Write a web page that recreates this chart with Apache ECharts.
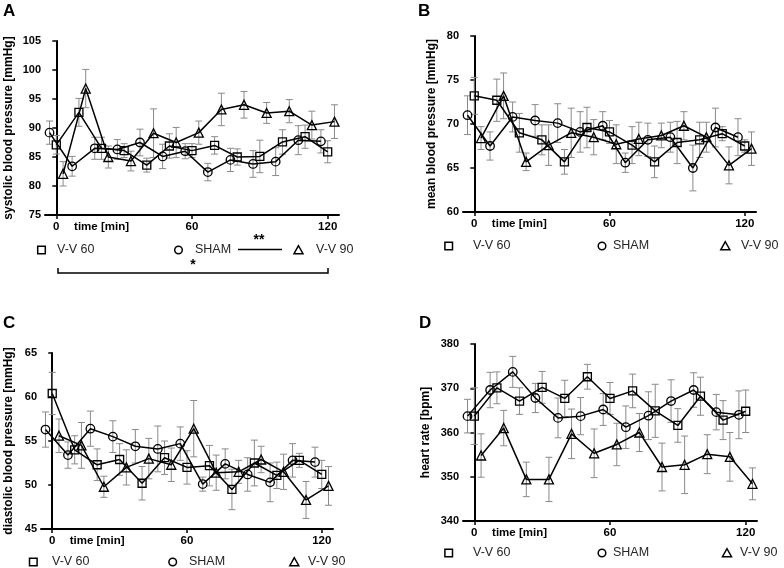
<!DOCTYPE html>
<html><head><meta charset="utf-8">
<script src="https://cdn.jsdelivr.net/npm/echarts@6/dist/echarts.min.js"></script>
<style>html,body{margin:0;padding:0;background:#fff}#c{width:784px;height:568px}</style>
</head><body><div id="c"></div>
<script>
// time points (min)
const timeSham = [-3, 7, 17, 27, 37, 47, 57, 67, 77, 87, 97, 107, 117];
const time60 = [0, 10, 20, 30, 40, 50, 60, 70, 80, 90, 100, 110, 120];
const time90 = [3, 13, 23, 33, 43, 53, 63, 73, 83, 93, 103, 113, 123];
const xTickValues = [0, 60, 120];
const xLabelValues = [0, 20, 60, 120];
const seriesNames = ['V-V 60', 'SHAM', 'V-V 90'];

// A: systolic blood pressure
const sys60 = [87.1, 92.7, 86.5, 86.1, 83.6, 86.9, 86.1, 87.0, 85.0, 85.1, 87.6, 88.5, 85.9];
const sys60Err = [1.6, 2.4, 1.9, 1.2, 1.2, 2.1, 1.2, 1.5, 1.4, 2.8, 2.1, 2.0, 1.9];
const sysSham = [89.2, 83.4, 86.5, 86.3, 87.5, 85.1, 86.0, 82.4, 84.5, 83.8, 84.2, 87.9, 87.7];
const sysShamErr = [2.0, 1.7, 1.9, 1.7, 2.3, 2.1, 1.3, 1.5, 2.0, 2.3, 2.4, 2.5, 2.0];
const sys90 = [82.1, 96.8, 85.0, 84.3, 89.1, 87.5, 89.2, 93.2, 94.0, 92.6, 92.9, 90.5, 91.1];
const sys90Err = [2.1, 3.3, 1.9, 1.7, 4.2, 2.6, 2.0, 2.8, 2.3, 1.8, 2.0, 2.4, 2.9];

// B: mean blood pressure
const mean60 = [73.2, 72.7, 69.0, 68.2, 65.7, 69.6, 69.1, 67.6, 65.7, 67.9, 68.2, 68.9, 67.5];
const mean60Err = [2.1, 2.4, 2.2, 1.7, 1.4, 2.3, 1.3, 2.1, 1.8, 2.4, 2.0, 0.8, 0.7];
const meanSham = [71.0, 67.5, 70.8, 70.4, 70.1, 69.1, 69.8, 65.6, 68.2, 68.5, 65.0, 69.6, 68.5];
const meanShamErr = [2.2, 1.6, 1.7, 1.8, 2.2, 2.3, 1.6, 1.1, 1.9, 1.7, 2.6, 2.2, 2.1];
const mean90 = [68.4, 73.2, 65.7, 67.6, 69.0, 68.5, 67.7, 68.3, 68.7, 69.8, 68.5, 65.3, 67.2];
const mean90Err = [1.3, 2.6, 1.0, 2.3, 2.8, 2.0, 2.2, 1.9, 1.4, 1.6, 1.7, 2.1, 1.9];

// C: diastolic blood pressure
const dia60 = [60.4, 54.0, 52.3, 52.9, 50.2, 53.1, 52.0, 52.2, 49.5, 52.5, 51.1, 52.8, 51.2];
const dia60Err = [2.4, 1.6, 1.8, 1.8, 1.9, 1.9, 1.9, 2.3, 2.3, 2.6, 1.5, 0.8, 1.6];
const diaSham = [56.3, 53.4, 56.4, 55.5, 54.4, 54.1, 54.7, 50.1, 52.4, 51.2, 50.3, 52.8, 52.6];
const diaShamErr = [2.0, 1.5, 2.0, 1.8, 1.9, 2.6, 1.9, 0.8, 1.7, 1.9, 2.2, 1.9, 1.7];
const dia90 = [55.6, 54.5, 49.8, 52.0, 53.0, 52.3, 56.4, 51.4, 51.5, 52.9, 51.5, 48.3, 49.9];
const dia90Err = [1.9, 2.6, 1.2, 2.0, 2.3, 1.9, 3.2, 2.0, 1.3, 1.5, 2.0, 2.1, 2.2];

// D: heart rate
const hr60 = [363.7, 370.1, 367.1, 370.2, 367.7, 372.6, 367.7, 369.4, 364.9, 361.6, 368.2, 362.8, 364.8];
const hr60Err = [6.4, 3.6, 3.0, 3.6, 4.1, 2.8, 3.6, 3.8, 6.0, 3.8, 4.3, 4.4, 4.8];
const hrSham = [363.7, 369.6, 373.7, 367.8, 363.3, 363.7, 365.2, 361.2, 363.8, 367.1, 369.6, 364.6, 364.0];
const hrShamErr = [3.8, 4.0, 3.5, 3.3, 4.5, 4.2, 3.6, 4.8, 5.4, 4.8, 3.9, 4.0, 5.4];
const hr90 = [354.8, 361.0, 349.4, 349.4, 359.7, 355.3, 357.3, 360.0, 352.2, 352.7, 355.1, 354.5, 348.4];
const hr90Err = [4.9, 4.0, 3.9, 5.0, 5.6, 5.5, 4.8, 4.3, 5.4, 6.5, 4.4, 5.5, 3.6];

const FONT = '"Liberation Sans", Arial, sans-serif';

const panels = [
  {letter: 'A', grid: {left: 45, top: 41, width: 294, height: 174}, yMin: 75, yMax: 105, yInt: 5,
   yName: 'systolic blood pressure [mmHg]', nameGap: 30,
   data: [[sys60, sys60Err], [sysSham, sysShamErr], [sys90, sys90Err]]},
  {letter: 'B', grid: {left: 463, top: 36, width: 293, height: 176}, yMin: 60, yMax: 80, yInt: 5,
   yName: 'mean blood pressure [mmHg]', nameGap: 25,
   data: [[mean60, mean60Err], [meanSham, meanShamErr], [mean90, mean90Err]]},
  {letter: 'C', grid: {left: 41, top: 353, width: 292, height: 176}, yMin: 45, yMax: 65, yInt: 5,
   yName: 'diastolic blood pressure [mmHg]', nameGap: 26,
   data: [[dia60, dia60Err], [diaSham, diaShamErr], [dia90, dia90Err]]},
  {letter: 'D', grid: {left: 463, top: 344, width: 294, height: 177}, yMin: 340, yMax: 380, yInt: 10,
   yName: 'heart rate [bpm]', nameGap: 31,
   data: [[hr60, hr60Err], [hrSham, hrShamErr], [hr90, hr90Err]]}
];
const times = [time60, timeSham, time90];
const symbols = ['rect', 'circle', 'triangle'];
const symSizes = [8, 8.5, 9];

const grids = [], xAxes = [], yAxes = [], series = [];
panels.forEach((p, i) => {
  grids.push(p.grid);
  xAxes.push({
    type: 'value', gridIndex: i, min: -5, max: 125,
    axisLine: {show: true, onZero: false, lineStyle: {color: '#000', width: 2}},
    axisTick: {show: true, customValues: xTickValues, length: 4, lineStyle: {color: '#000', width: 1.5}},
    axisLabel: {customValues: xLabelValues, color: '#000', fontFamily: FONT, fontWeight: 'bold', fontSize: 11.5, margin: 6,
      formatter: v => (v === 20 ? 'time [min]' : String(v))},
    splitLine: {show: false}
  });
  yAxes.push({
    type: 'value', gridIndex: i, min: p.yMin, max: p.yMax, interval: p.yInt,
    name: p.yName, nameLocation: 'middle', nameGap: p.nameGap,
    nameTextStyle: {color: '#000', fontFamily: FONT, fontWeight: 'bold', fontSize: 12},
    axisLine: {show: true, lineStyle: {color: '#000', width: 2}},
    axisTick: {show: true, length: 4, lineStyle: {color: '#000', width: 1.5}},
    axisLabel: {color: '#000', fontFamily: FONT, fontWeight: 'bold', fontSize: 11, margin: 4},
    splitLine: {show: false}
  });
  p.data.forEach((d, s) => {
    const vals = d[0], errs = d[1], t = times[s];
    series.push({
      type: 'custom', xAxisIndex: i, yAxisIndex: i, z: 1, silent: true,
      data: vals.map((v, k) => [t[k], v, errs[k]]),
      renderItem: (params, api) => {
        const x = api.value(0), y = api.value(1), e = api.value(2);
        const top = api.coord([x, y + e]), bot = api.coord([x, y - e]);
        const w = 3.5, st = {stroke: '#8a8a8a', lineWidth: 1};
        return {type: 'group', children: [
          {type: 'line', shape: {x1: top[0], y1: top[1], x2: bot[0], y2: bot[1]}, style: st},
          {type: 'line', shape: {x1: top[0] - w, y1: top[1], x2: top[0] + w, y2: top[1]}, style: st},
          {type: 'line', shape: {x1: bot[0] - w, y1: bot[1], x2: bot[0] + w, y2: bot[1]}, style: st}
        ]};
      }
    });
    series.push({
      type: 'line', name: seriesNames[s], xAxisIndex: i, yAxisIndex: i, z: 3,
      data: vals.map((v, k) => [t[k], v]),
      symbol: symbols[s], symbolSize: symSizes[s], showAllSymbol: true,
      lineStyle: {color: '#000', width: 1.5},
      itemStyle: {color: 'rgba(255,255,255,0)', borderColor: '#000', borderWidth: 1.3},
      emphasis: {disabled: true}
    });
  });
});

// decorations: panel letters, legends, significance marks
const graphic = [];
const letterPos = [[3, 3], [418, 3], [3, 315], [419, 315]];
panels.forEach((p, i) => {
  graphic.push({type: 'text', left: letterPos[i][0], top: letterPos[i][1],
    style: {text: p.letter, font: 'bold 17px ' + FONT, fill: '#000'}});
});
const legendRows = [
  {y: 250, marks: [41.5, 178.5, 298.5], texts: [57, 195, 316]},
  {y: 246, marks: [448.7, 602, 725.3], texts: [473, 613, 741]},
  {y: 562, marks: [33.3, 172.7, 294.3], texts: [52, 189, 308]},
  {y: 553, marks: [448.7, 602, 727], texts: [473, 613, 740]}
];
const mStyle = {stroke: '#000', lineWidth: 1.5, fill: 'none'};
legendRows.forEach(r => {
  const [a, b, c] = r.marks;
  graphic.push({type: 'rect', shape: {x: a - 3.8, y: r.y - 3.8, width: 7.6, height: 7.6}, style: mStyle});
  graphic.push({type: 'circle', shape: {cx: b, cy: r.y, r: 3.8}, style: mStyle});
  graphic.push({type: 'polygon', shape: {points: [[c, r.y - 4.3], [c - 4.5, r.y + 3.7], [c + 4.5, r.y + 3.7]]}, style: mStyle});
  seriesNames.forEach((n, k) => {
    graphic.push({type: 'text', x: r.texts[k], y: r.y, style: {text: n, font: '12.5px ' + FONT, fill: '#262626', verticalAlign: 'middle'}});
  });
});
// significance annotations in panel A
graphic.push({type: 'line', shape: {x1: 238, y1: 249.5, x2: 282, y2: 249.5}, style: {stroke: '#000', lineWidth: 1.5}});
graphic.push({type: 'text', x: 259, y: 240, style: {text: '**', font: 'bold 14px ' + FONT, fill: '#000', align: 'center', verticalAlign: 'middle'}});
graphic.push({type: 'polyline', shape: {points: [[58, 268], [58, 273], [328, 273], [328, 268]]}, style: {stroke: '#000', lineWidth: 1.5, fill: 'none'}});
graphic.push({type: 'text', x: 193, y: 265, style: {text: '*', font: 'bold 14px ' + FONT, fill: '#000', align: 'center', verticalAlign: 'middle'}});

const chart = echarts.init(document.getElementById('c'), null, {renderer: 'canvas'});
chart.setOption({animation: false, backgroundColor: '#fff', grid: grids, xAxis: xAxes, yAxis: yAxes, series: series, graphic: graphic});
</script>
</body></html>
